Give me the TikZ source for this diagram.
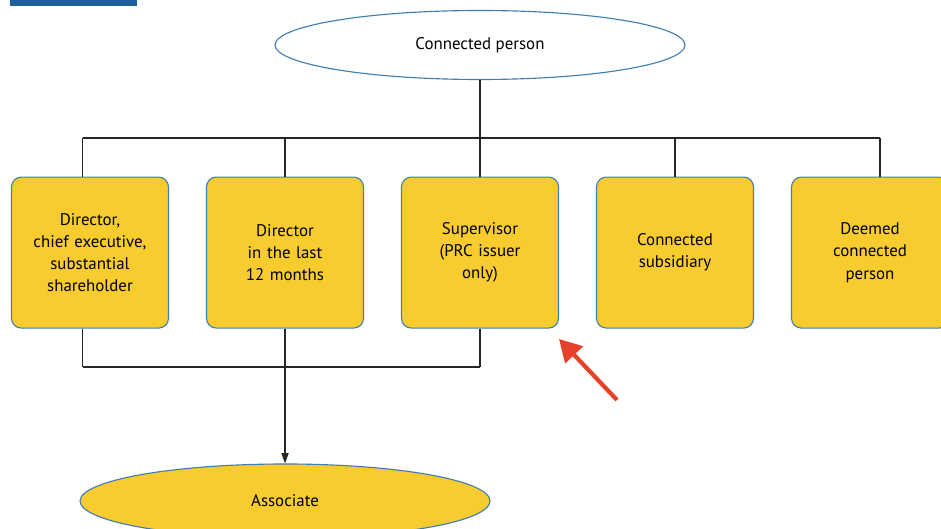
\documentclass[tikz,border=0pt]{standalone}
\usepackage{fontspec}
\setmainfont{PT Sans}
\usetikzlibrary{shapes.geometric, arrows.meta, positioning}
\definecolor{amarilloCaja}{HTML}{F8CC2E}
\definecolor{bordeAzul}{HTML}{3F7DB3}
\definecolor{azulTitulo}{HTML}{1F5E9E}
\definecolor{rojoFlecha}{HTML}{E8412B}
\definecolor{lineaGris}{HTML}{262626}

\begin{document}
\begin{tikzpicture}[
        font=\fontsize{12}{15.8}\selectfont,
        role/.style={draw=bordeAzul, fill=amarilloCaja, thick, rounded corners=7pt,
            minimum width=3.925cm, minimum height=3.775cm, text width=3.6cm, align=center},
        hub/.style={ellipse, draw=bordeAzul, thick, minimum width=10.25cm, minimum height=1.725cm},
        result/.style={ellipse, draw=bordeAzul, fill=amarilloCaja, thick,
            minimum width=10.25cm, minimum height=1.85cm},
        link/.style={draw=lineaGris, line width=0.8pt},
        arrow/.style={link, -{Triangle[length=2.6mm, width=1.8mm]}},
        pointer/.style={draw=rojoFlecha, line width=3pt, -{Triangle[length=5.5mm, width=6mm]}}
    ]
        \useasboundingbox (0,0) rectangle (23.525,13.225);
        % title tab, cut off at the top edge
        \fill[azulTitulo] (0.25,13.075) rectangle (3.425,13.4);

        \node[hub] (person) at (12,12.1) {Connected person};

        \node[role] (dir) at (2.25,6.91) {Director,\\chief executive,\\substantial\\shareholder};
        \node[role] (former) at (7.125,6.91) {Director\\in the last\\12 months};
        \node[role] (sup) at (12,6.91) {Supervisor\\(PRC issuer\\only)};
        \node[role] (sub) at (16.875,6.91) {Connected\\subsidiary};
        \node[role] (deem) at (21.75,6.91) {Deemed\\connected\\person};

        \node[result] (assoc) at (7.125,0.7) {Associate};

        % upper bus
        \coordinate (topbus) at (12,9.775);
        \draw[link] (person.south) -- (topbus);
        \draw[link] ([xshift=-1.8mm]dir.north |- topbus) -- ([xshift=2.5mm]deem.north |- topbus);
        \draw[link] ([xshift=-1.8mm]dir.north |- topbus) -- ([xshift=-1.8mm]dir.north);
        \draw[link] ([xshift=2.5mm]deem.north |- topbus) -- ([xshift=2.5mm]deem.north);
        \foreach \n in {former,sup,sub}
            \draw[link] (\n.north |- topbus) -- (\n.north);

        % lower bus
        \coordinate (lowbus) at (7.125,4.05);
        \draw[link] ([xshift=-1.8mm]dir.south) -- ([xshift=-1.8mm]dir.south |- lowbus);
        \foreach \n in {former,sup}
            \draw[link] (\n.south) -- (\n.south |- lowbus);
        \draw[link] ([xshift=-1.8mm]dir.south |- lowbus) -- (sup.south |- lowbus);
        \draw[arrow] (lowbus) -- (assoc.north);

        % red pointer
        \coordinate (tail) at (15.425,3.225);
        \coordinate (tip) at (13.975,4.75);
        \draw[pointer] (tail) -- (tip);
    \end{tikzpicture}
\end{document}
